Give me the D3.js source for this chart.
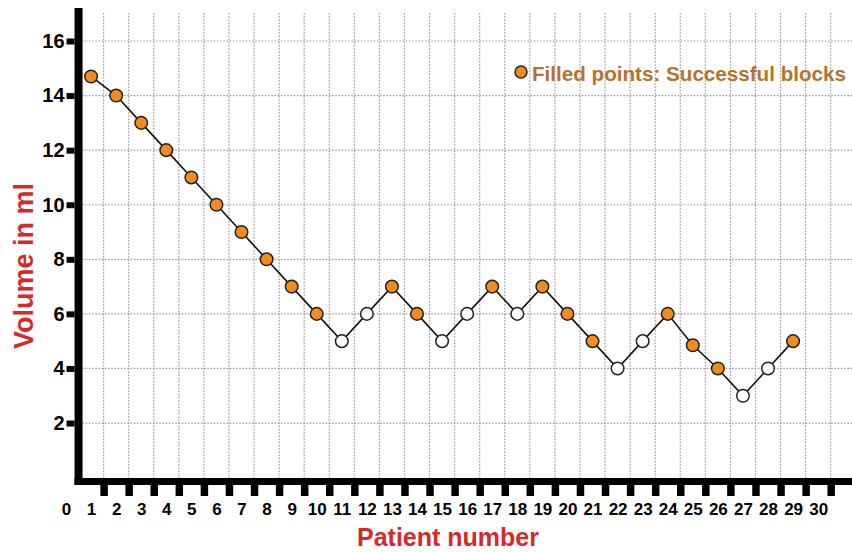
<!DOCTYPE html>
<html>
<head>
<meta charset="utf-8">
<script src="https://cdn.jsdelivr.net/npm/d3@7"></script>
<style>
  body { margin: 0; background: #fff; }
  svg { display: block; font-family: "Liberation Sans", Arial, sans-serif; }
</style>
</head>
<body>
<svg width="852" height="552"></svg>
<script>
// data
const patients = [1, 2, 3, 4, 5, 6, 7, 8, 9, 10, 11, 12, 13, 14, 15, 16, 17, 18, 19, 20, 21, 22, 23, 24, 25, 26, 27, 28, 29];
const volumes = [14.7, 14, 13, 12, 11, 10, 9, 8, 7, 6, 5, 6, 7, 6, 5, 6, 7, 6, 7, 6, 5, 4, 5, 6, 4.85, 4, 3, 4, 5];
// 1 = successful block (filled), 0 = failed (open)
const success = [1, 1, 1, 1, 1, 1, 1, 1, 1, 1, 0, 0, 1, 1, 0, 0, 1, 0, 1, 1, 1, 0, 0, 1, 1, 1, 0, 0, 1];
const xTickLabels = [0, 1, 2, 3, 4, 5, 6, 7, 8, 9, 10, 11, 12, 13, 14, 15, 16, 17, 18, 19, 20, 21, 22, 23, 24, 25, 26, 27, 28, 29, 30];
// tick marks / grid sit half way between patients
const xGridPos = [1.5, 2.5, 3.5, 4.5, 5.5, 6.5, 7.5, 8.5, 9.5, 10.5, 11.5, 12.5, 13.5, 14.5, 15.5, 16.5, 17.5, 18.5, 19.5, 20.5, 21.5, 22.5, 23.5, 24.5, 25.5, 26.5, 27.5, 28.5, 29.5, 30.5];
const yTicks = [2, 4, 6, 8, 10, 12, 14, 16];
const legendLabel = "Filled points: Successful blocks";

const points = patients.map((p, i) => ({patient: p, volume: volumes[i], ok: success[i] === 1}));

const orange = "#f28c1e";
const red = "#d42a2a";

const svg = d3.select("svg");

const x = d3.scaleLinear().domain([0, 31.35]).range([66, 852]);
const y = d3.scaleLinear().domain([0, 16]).range([477.6, 41]);

const axisX = x(0.5) - 4;   // left edge of the y axis bar
const axisY = 478;          // top edge of the x axis bar

// grid
const grid = svg.append("g")
    .attr("stroke", "#9a9a9a")
    .attr("stroke-width", 1.2)
    .attr("stroke-dasharray", "1.6,1.6");

grid.selectAll(".vg").data(xGridPos).enter().append("line")
    .attr("x1", d => x(d)).attr("x2", d => x(d))
    .attr("y1", 13).attr("y2", axisY);

grid.selectAll(".hg").data(yTicks).enter().append("line")
    .attr("x1", axisX + 8).attr("x2", 852)
    .attr("y1", d => y(d)).attr("y2", d => y(d));

// axis bars
svg.append("rect")
    .attr("x", axisX).attr("y", 8)
    .attr("width", 8).attr("height", axisY + 7 - 8)
    .attr("fill", "#000");
svg.append("rect")
    .attr("x", axisX).attr("y", axisY)
    .attr("width", 852 - axisX).attr("height", 7)
    .attr("fill", "#000");

// Y ticks
const yAxisCall = d3.axisLeft(y).tickValues(yTicks).tickSize(8).tickPadding(2);
const gy = svg.append("g")
    .attr("transform", `translate(${axisX}, 0)`)
    .call(yAxisCall);
gy.select(".domain").remove();
gy.selectAll(".tick line").attr("stroke", "#000").attr("stroke-width", 6);
gy.selectAll(".tick text")
    .attr("font-size", "20px")
    .attr("font-weight", "bold")
    .attr("fill", "#000")
    .attr("font-family", "Liberation Sans, Arial, sans-serif");

// X tick marks
const xAxisCall = d3.axisBottom(x).tickValues(xGridPos).tickSize(11).tickFormat("");
const gx = svg.append("g")
    .attr("transform", `translate(0, ${axisY + 7})`)
    .call(xAxisCall);
gx.select(".domain").remove();
gx.selectAll(".tick line").attr("stroke", "#000").attr("stroke-width", 7.5);

// X labels
const xLabelCall = d3.axisBottom(x).tickValues(xTickLabels).tickSize(0).tickPadding(0);
const gxl = svg.append("g")
    .attr("transform", `translate(0, 503)`)
    .call(xLabelCall);
gxl.select(".domain").remove();
gxl.selectAll(".tick text")
    .attr("font-size", "17px")
    .attr("font-weight", "bold")
    .attr("fill", "#000")
    .attr("font-family", "Liberation Sans, Arial, sans-serif");

// axis titles
svg.append("text")
    .attr("x", 448)
    .attr("y", 546)
    .attr("font-size", "25px")
    .attr("font-weight", "bold")
    .attr("fill", red)
    .attr("text-anchor", "middle")
    .text("Patient number");

svg.append("text")
    .attr("x", -266)
    .attr("y", 33)
    .attr("font-size", "27px")
    .attr("font-weight", "bold")
    .attr("fill", red)
    .attr("text-anchor", "middle")
    .attr("transform", "rotate(-90)")
    .text("Volume in ml");

// line
const line = d3.line()
    .x(d => x(d.patient))
    .y(d => y(d.volume));

svg.append("path")
    .datum(points)
    .attr("d", line)
    .attr("fill", "none")
    .attr("stroke", "#111")
    .attr("stroke-width", 1.6);

// points
svg.selectAll(".pt").data(points).enter().append("circle")
    .attr("cx", d => x(d.patient))
    .attr("cy", d => y(d.volume))
    .attr("r", 6.3)
    .attr("fill", d => d.ok ? orange : "#fff")
    .attr("stroke", "#222")
    .attr("stroke-width", 1.5);

// legend
svg.append("circle")
    .attr("cx", 521).attr("cy", 72).attr("r", 6)
    .attr("fill", orange)
    .attr("stroke", "#222")
    .attr("stroke-width", 1.5);
svg.append("text")
    .attr("x", 532)
    .attr("y", 80.5)
    .attr("font-size", "21px")
    .attr("font-weight", "bold")
    .attr("fill", "#b5722c")
    .attr("textLength", 314)
    .attr("lengthAdjust", "spacingAndGlyphs")
    .text(legendLabel);
</script>
</body>
</html>
